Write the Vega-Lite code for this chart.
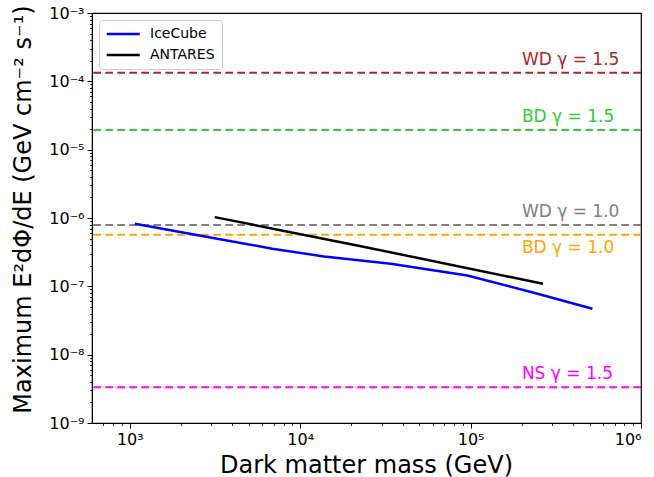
{
  "$schema": "https://vega.github.io/schema/vega-lite/v6.json",
  "width": 549,
  "height": 410,
  "autosize": {"type": "none"},
  "padding": {"left": 92, "top": 13, "right": 13, "bottom": 54},
  "background": "white",
  "config": {
    "font": "DejaVu Sans",
    "view": {"stroke": "black", "strokeWidth": 1.2},
    "axis": {
      "grid": false,
      "domainColor": "black",
      "tickColor": "black",
      "labelColor": "black",
      "titleColor": "black",
      "titleFontWeight": "normal",
      "labelFont": "DejaVu Sans",
      "titleFont": "DejaVu Sans"
    }
  },
  "datasets": {
    "limits": [
      {"experiment": "IceCube", "mass": 1070, "flux": 8.26e-7},
      {"experiment": "IceCube", "mass": 3260, "flux": 4.98e-7},
      {"experiment": "IceCube", "mass": 6850, "flux": 3.56e-7},
      {"experiment": "IceCube", "mass": 13800, "flux": 2.74e-7},
      {"experiment": "IceCube", "mass": 34000, "flux": 2.14e-7},
      {"experiment": "IceCube", "mass": 95700, "flux": 1.44e-7},
      {"experiment": "IceCube", "mass": 247000, "flux": 7.8e-8},
      {"experiment": "IceCube", "mass": 519000, "flux": 4.7e-8},
      {"experiment": "ANTARES", "mass": 3150, "flux": 1.03e-6},
      {"experiment": "ANTARES", "mass": 21600, "flux": 3.97e-7},
      {"experiment": "ANTARES", "mass": 266000, "flux": 1.09e-7}
    ],
    "benchmarks": [
      {"label": "WD γ = 1.5", "flux": 1.33e-4},
      {"label": "BD γ = 1.5", "flux": 1.94e-5},
      {"label": "WD γ = 1.0", "flux": 7.87e-7},
      {"label": "BD γ = 1.0", "flux": 5.7e-7},
      {"label": "NS γ = 1.5", "flux": 3.34e-9}
    ]
  },
  "layer": [
    {
      "data": {"name": "benchmarks"},
      "mark": {"type": "rule", "strokeDash": [7.7, 4.3], "strokeWidth": 2},
      "encoding": {
        "y": {"field": "flux", "type": "quantitative", "scale": {"type": "log", "domain": [1e-9, 1e-3], "nice": false}, "axis": null},
        "stroke": {
          "field": "label", "type": "nominal",
          "scale": {
            "domain": ["WD γ = 1.5", "BD γ = 1.5", "WD γ = 1.0", "BD γ = 1.0", "NS γ = 1.5"],
            "range": ["#a52a2a", "#32cd32", "#808080", "#ffa500", "#ff00ff"]
          },
          "legend": null
        }
      }
    },
    {
      "data": {"name": "benchmarks"},
      "transform": [{"filter": "datum.label !== 'BD γ = 1.0'"}],
      "mark": {"type": "text", "align": "left", "baseline": "middle", "dy": -13, "fontSize": 17},
      "encoding": {
        "x": {
          "datum": 200000, "type": "quantitative",
          "axis": {
            "orient": "bottom",
            "values": [700, 800, 900, 2000, 3000, 4000, 5000, 6000, 7000, 8000, 9000, 20000, 30000, 40000, 50000, 60000, 70000, 80000, 90000, 200000, 300000, 400000, 500000, 600000, 700000, 800000, 900000],
            "labels": false, "domain": false, "title": null, "tickSize": 2.5, "tickWidth": 0.8
          }
        },
        "y": {
          "field": "flux", "type": "quantitative",
          "axis": {
            "orient": "left",
            "values": [2e-9, 3e-9, 4e-9, 5e-9, 6e-9, 7e-9, 8e-9, 9e-9, 2e-8, 3e-8, 4e-8, 5e-8, 6e-8, 7e-8, 8e-8, 9e-8, 2e-7, 3e-7, 4e-7, 5e-7, 6e-7, 7e-7, 8e-7, 9e-7, 2e-6, 3e-6, 4e-6, 5e-6, 6e-6, 7e-6, 8e-6, 9e-6, 2e-5, 3e-5, 4e-5, 5e-5, 6e-5, 7e-5, 8e-5, 9e-5, 2e-4, 3e-4, 4e-4, 5e-4, 6e-4, 7e-4, 8e-4, 9e-4],
            "labels": false, "domain": false, "title": null, "tickSize": 2.5, "tickWidth": 0.8
          }
        },
        "text": {"field": "label", "type": "nominal"},
        "fill": {
          "field": "label", "type": "nominal",
          "scale": {
            "domain": ["WD γ = 1.5", "BD γ = 1.5", "WD γ = 1.0", "BD γ = 1.0", "NS γ = 1.5"],
            "range": ["#a52a2a", "#32cd32", "#808080", "#ffa500", "#ff00ff"]
          },
          "legend": null
        }
      }
    },
    {
      "data": {"name": "benchmarks"},
      "transform": [{"filter": "datum.label === 'BD γ = 1.0'"}],
      "mark": {"type": "text", "align": "left", "baseline": "middle", "dy": 13, "fontSize": 17},
      "encoding": {
        "x": {"datum": 200000, "type": "quantitative", "axis": null},
        "y": {"field": "flux", "type": "quantitative", "axis": null},
        "text": {"field": "label", "type": "nominal"},
        "fill": {
          "field": "label", "type": "nominal",
          "scale": {
            "domain": ["WD γ = 1.5", "BD γ = 1.5", "WD γ = 1.0", "BD γ = 1.0", "NS γ = 1.5"],
            "range": ["#a52a2a", "#32cd32", "#808080", "#ffa500", "#ff00ff"]
          },
          "legend": null
        }
      }
    },
    {
      "data": {"name": "limits"},
      "mark": {"type": "line", "strokeWidth": 2.5},
      "encoding": {
        "x": {
          "field": "mass", "type": "quantitative",
          "scale": {"type": "log", "domain": [600, 1000000], "nice": false},
          "axis": {
            "orient": "bottom",
            "values": [1000, 10000, 100000, 1000000],
            "labelExpr": "'10' + replace(replace(replace(replace(replace(replace(replace(replace(toString(round(log(datum.value)/LN10)),'-','⁻'),'3','³'),'4','⁴'),'5','⁵'),'6','⁶'),'7','⁷'),'8','⁸'),'9','⁹')",
            "labelFontSize": 16, "labelPadding": 3, "tickSize": 5, "tickWidth": 1,
            "title": "Dark matter mass (GeV)", "titleFontSize": 24,
            "titleX": 274, "titleY": 49, "titleBaseline": "alphabetic", "titleAlign": "center"
          }
        },
        "y": {
          "field": "flux", "type": "quantitative",
          "axis": {
            "orient": "left",
            "values": [1e-9, 1e-8, 1e-7, 1e-6, 1e-5, 1e-4, 1e-3],
            "labelExpr": "'10' + replace(replace(replace(replace(replace(replace(replace(replace(toString(round(log(datum.value)/LN10)),'-','⁻'),'3','³'),'4','⁴'),'5','⁵'),'6','⁶'),'7','⁷'),'8','⁸'),'9','⁹')",
            "labelFontSize": 16, "labelPadding": 3, "tickSize": 5, "tickWidth": 1,
            "title": "Maximum E²dΦ/dE (GeV cm⁻² s⁻¹)", "titleFontSize": 24,
            "titleX": -62, "titleY": 196, "titleBaseline": "alphabetic", "titleAlign": "center", "titleAngle": 270
          }
        },
        "color": {
          "field": "experiment", "type": "nominal",
          "scale": {"domain": ["IceCube", "ANTARES"], "range": ["#0000ff", "#000000"]},
          "legend": {
            "title": null,
            "orient": "none",
            "legendX": 7,
            "legendY": 7,
            "symbolType": "M-1.25,0H5.35",
            "symbolSize": 100,
            "symbolStrokeWidth": 2.5,
            "labelFontSize": 14,
            "labelColor": "black",
            "labelOffset": 30,
            "padding": 7,
            "rowPadding": 7,
            "strokeColor": "#cccccc",
            "fillColor": "#ffffff",
            "cornerRadius": 3
          }
        }
      }
    }
  ],
  "resolve": {"axis": {"x": "independent", "y": "independent"}}
}
